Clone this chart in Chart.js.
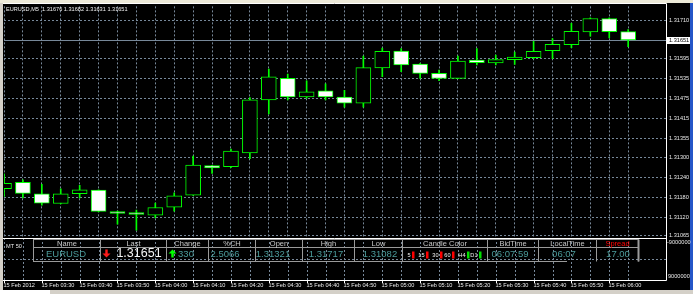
<!DOCTYPE html>
<html lang="en">
<head>
<meta charset="UTF-8" />
<title>EURUSD,M5</title>
<script src="https://cdn.jsdelivr.net/npm/chart.js@4.4.1/dist/chart.umd.min.js"></script>
<style>
  html, body { margin: 0; padding: 0; background: #000; }
  canvas { display: block; }
</style>
</head>
<body>
<canvas id="mt4" width="693" height="294"></canvas>
<script>
// ---- data ----
var symbol = "EURUSD,M5";
var dateLabel = "15 Feb 2012";
var times = ["03:20","03:25","03:30","03:35","03:40","03:45","03:50","03:55",
             "04:00","04:05","04:10","04:15","04:20","04:25","04:30","04:35",
             "04:40","04:45","04:50","04:55","05:00","05:05","05:10","05:15",
             "05:20","05:25","05:30","05:35","05:40","05:45","05:50","05:55",
             "06:00","06:05"];
var opens  = [1.31206,1.31225,1.31191,1.31162,1.31191,1.31202,1.31138,1.31135,
              1.31127,1.31151,1.31187,1.31275,1.31272,1.31313,1.31472,1.31536,
              1.31481,1.31499,1.31480,1.31462,1.31567,1.31618,1.31579,1.31551,
              1.31536,1.31591,1.31582,1.31592,1.31598,1.31619,1.31637,1.31675,
              1.31715,1.31676];
var highs  = [1.31251,1.31233,1.31219,1.31206,1.31216,1.31203,1.31139,1.31142,
              1.31163,1.31194,1.31304,1.31276,1.31325,1.31479,1.31564,1.31549,
              1.31529,1.31520,1.31500,1.31603,1.31627,1.31625,1.31581,1.31561,
              1.31603,1.31625,1.31606,1.31615,1.31647,1.31655,1.31701,1.31717,
              1.31717,1.31682];
var lows   = [1.31183,1.31179,1.31157,1.31161,1.31179,1.31137,1.31100,1.31082,
              1.31119,1.31139,1.31186,1.31252,1.31269,1.31296,1.31430,1.31472,
              1.31477,1.31472,1.31450,1.31450,1.31541,1.31556,1.31536,1.31529,
              1.31535,1.31576,1.31576,1.31578,1.31595,1.31595,1.31628,1.31662,
              1.31657,1.31631];
var closes = [1.31222,1.31192,1.31163,1.31191,1.31203,1.31138,1.31132,1.31129,
              1.31150,1.31185,1.31277,1.31268,1.31319,1.31472,1.31541,1.31481,
              1.31496,1.31481,1.31462,1.31568,1.31617,1.31576,1.31551,1.31536,
              1.31588,1.31583,1.31592,1.31600,1.31617,1.31638,1.31677,1.31715,
              1.31676,1.31651];
var priceTicks = [1.31710,1.31595,1.31535,1.31475,1.31415,1.31355,1.31300,1.31240,1.31180,1.31120,1.31065];
var bid = 1.31651;
var subLabels = ["-9000000", "9000000"];
var tableHeads  = ["Name","Last","Change","%CH","Open","High","Low","Candle Color","BidTime","LocalTime","Spread"];
var tableValues = ["EURUSD","1.31651","330","2.5066","1.31321","1.31717","1.31082","","06:07:59","06:07","17.00"];
var tfNames = ["5","15","30","60","H4","D1"];
var tfDir   = [-1,-1,-1,-1,1,1];
var indiName = "MT 50";

// ---- look ----
var LIME = "#00ff00";
var GRID = "#778899";
var TEAL = "#4a9a9a";
var FONT = "'Liberation Sans', Arial, sans-serif";

var idx = times.map(function (t, i) { return i; });
var bodies = idx.map(function (i) { return { x: i, y: [opens[i], closes[i]] }; });
var wicks = idx.map(function (i) { return { x: i, y: [lows[i], highs[i]] }; });

var colEdges = [33.5,100.5,166.5,208.5,255.5,302.5,354.5,402.5,487.5,538.5,596.5,638.5];
var valCenters = [66,139,186,225,273,326,380,444,510,564,618];
var tfBarX = [412,426,440,452,467,479];

function line(c, x1, y1, x2, y2) {
  c.beginPath(); c.moveTo(x1, y1); c.lineTo(x2, y2); c.stroke();
}

function arrow(c, x, y, up, color) {
  c.fillStyle = color;
  c.beginPath();
  if (up) {
    c.moveTo(x, y - 4); c.lineTo(x + 4, y); c.lineTo(x + 1.2, y); c.lineTo(x + 1.2, y + 4);
    c.lineTo(x - 1.2, y + 4); c.lineTo(x - 1.2, y); c.lineTo(x - 4, y);
  } else {
    c.moveTo(x, y + 4); c.lineTo(x + 4, y); c.lineTo(x + 1.2, y); c.lineTo(x + 1.2, y - 4);
    c.lineTo(x - 1.2, y - 4); c.lineTo(x - 1.2, y); c.lineTo(x - 4, y);
  }
  c.closePath(); c.fill();
}

var mt4Frame = {
  id: "mt4Frame",
  beforeDraw: function (chart) {
    var c = chart.ctx;
    c.save();
    c.fillStyle = "#000";
    c.fillRect(0, 0, chart.width, chart.height);
    c.restore();
  },
  beforeDatasetsDraw: function (chart) {
    var c = chart.ctx, a = chart.chartArea;
    var y = Math.round(chart.scales.y.getPixelForValue(bid)) + 0.5;
    c.save();
    c.strokeStyle = GRID; c.lineWidth = 1;
    line(c, a.left, y, a.right, y);
    c.restore();
  },
  afterDraw: function (chart) {
    var c = chart.ctx, a = chart.chartArea, xs = chart.scales.x, ys = chart.scales.y;
    var subTop = a.bottom, subBot = 280.5, last = closes.length - 1;
    c.save();

    // sub window grid
    c.strokeStyle = GRID; c.lineWidth = 1; c.setLineDash([2, 2]);
    idx.forEach(function (i) {
      var x = Math.round(xs.getPixelForValue(i)) + 0.5;
      line(c, x, subTop, x, subBot);
    });
    line(c, a.left, 259.5, a.right, 259.5);
    c.setLineDash([]);

    // window borders
    c.strokeStyle = "#ffffff";
    line(c, 3, 3.5, 666.5, 3.5);
    line(c, 666.5, 3.5, 666.5, subBot);
    line(c, 3, 238.5, 666.5, 238.5);
    line(c, 3, subBot, 666.5, subBot);

    // outer frame
    c.fillStyle = "#d4d0c8";
    c.fillRect(0, 0, 3, 294);
    c.fillRect(0, 290, 693, 4);
    c.fillStyle = "#ffffff";
    c.fillRect(0, 290, 50, 4);
    c.fillStyle = "#ece9d8";
    c.fillRect(0, 0, 693, 3);
    c.fillStyle = "#2456c8";
    c.fillRect(690, 3, 3, 287);

    // title
    c.fillStyle = "#f0f0f0";
    c.font = "5.6px " + FONT;
    c.textBaseline = "middle"; c.textAlign = "left";
    c.fillText(symbol + "  " + opens[last].toFixed(5) + " " + highs[last].toFixed(5) + " " +
               lows[last].toFixed(5) + " " + closes[last].toFixed(5), 6, 9);

    // bid label
    var by = Math.round(ys.getPixelForValue(bid)) + 0.5;
    c.fillStyle = "#ffffff";
    c.fillRect(667, by - 3.5, 23, 7);
    c.fillStyle = "#000000";
    c.fillText(bid.toFixed(5), 669, by);

    // sub window scale
    c.fillStyle = "#e8e8e8";
    c.fillText(subLabels[0], 667, 242.5);
    c.fillText(subLabels[1], 668, 276);
    c.fillText(indiName, 6, 246);

    // time axis
    c.strokeStyle = "#ffffff";
    for (var k = 0; k < times.length; k += 2) {
      var tx = Math.round(xs.getPixelForValue(k)) + 0.5;
      line(c, tx, subBot, tx, subBot + 2.5);
      c.fillText(k === 0 ? dateLabel : "15 Feb " + times[k], Math.max(tx - 1, 3.5), 285);
    }

    // table lines
    c.strokeStyle = "#9a9a9a";
    line(c, 33, 239.5, 639, 239.5);
    line(c, 33, 247.5, 639, 247.5);
    line(c, 33, 261.5, 567, 261.5);
    colEdges.forEach(function (x) { line(c, x, 239.5, x, 261.5); });
    c.fillStyle = "#9a9a9a";
    c.fillRect(637.5, 239.5, 2, 22);

    // table header
    c.textAlign = "center";
    c.font = "7.5px " + FONT;
    tableHeads.forEach(function (h, i) {
      c.fillStyle = h === "Spread" ? "#ff0000" : "#c8c8c8";
      c.fillText(h, (colEdges[i] + colEdges[i + 1]) / 2, 243.6);
    });

    // table values
    tableValues.forEach(function (v, i) {
      if (!v) return;
      if (i === 1) {
        c.font = "12.5px " + FONT; c.fillStyle = "#f4f4f4";
      } else {
        c.font = "9.5px " + FONT; c.fillStyle = TEAL;
      }
      c.fillText(v, valCenters[i], 254);
    });
    arrow(c, 106.5, 253.5, closes[last] > opens[last], "#ff1a1a");
    arrow(c, 172.5, 253.5, parseFloat(tableValues[2]) > 0, "#00ff00");

    // candle colour cell
    c.font = "5.6px " + FONT; c.textAlign = "right";
    tfNames.forEach(function (n, i) {
      c.fillStyle = "#f0f0f0";
      c.fillText(n, tfBarX[i] - 1.5, 255.5);
      c.fillStyle = tfDir[i] > 0 ? "#00e000" : "#ff0000";
      c.fillRect(tfBarX[i], 251.5, 2.5, 7);
    });

    c.restore();
  }
};

new Chart(document.getElementById("mt4"), {
  type: "bar",
  data: {
    datasets: [
      {
        label: "body",
        data: bodies,
        order: 1,
        grouped: false,
        barThickness: 15,
        borderWidth: 1,
        borderSkipped: false,
        borderColor: LIME,
        backgroundColor: function (ctx) {
          var i = ctx.dataIndex;
          return closes[i] < opens[i] ? "#ffffff" : "#000000";
        },
        minBarLength: 2,
        clip: 0
      },
      {
        label: "wick",
        data: wicks,
        order: 2,
        grouped: false,
        barThickness: 1,
        borderWidth: 0,
        backgroundColor: LIME,
        clip: 0
      }
    ]
  },
  options: {
    responsive: false,
    animation: false,
    layout: { padding: { left: 4, top: 4, right: 0, bottom: 56 } },
    plugins: { legend: { display: false }, tooltip: { enabled: false } },
    scales: {
      x: {
        type: "linear",
        offset: false,
        min: 0,
        max: 35,
        afterBuildTicks: function (s) { s.ticks = idx.map(function (v) { return { value: v }; }); },
        afterFit: function (s) { s.height = 0; },
        ticks: { display: false },
        grid: { color: GRID, drawTicks: false, offset: false },
        border: { display: false, dash: [2, 2] }
      },
      y: {
        position: "right",
        beginAtZero: false,
        min: 1.310588,
        max: 1.317514,
        afterBuildTicks: function (s) { s.ticks = priceTicks.map(function (v) { return { value: v }; }); },
        afterFit: function (s) { s.width = 27; },
        ticks: {
          color: "#e8e8e8",
          padding: 3,
          font: { family: FONT, size: 5.6 },
          callback: function (v) { return v.toFixed(5); }
        },
        grid: { color: GRID, drawTicks: false },
        border: { display: false, dash: [2, 2] }
      }
    }
  },
  plugins: [mt4Frame]
});
</script>
</body>
</html>
